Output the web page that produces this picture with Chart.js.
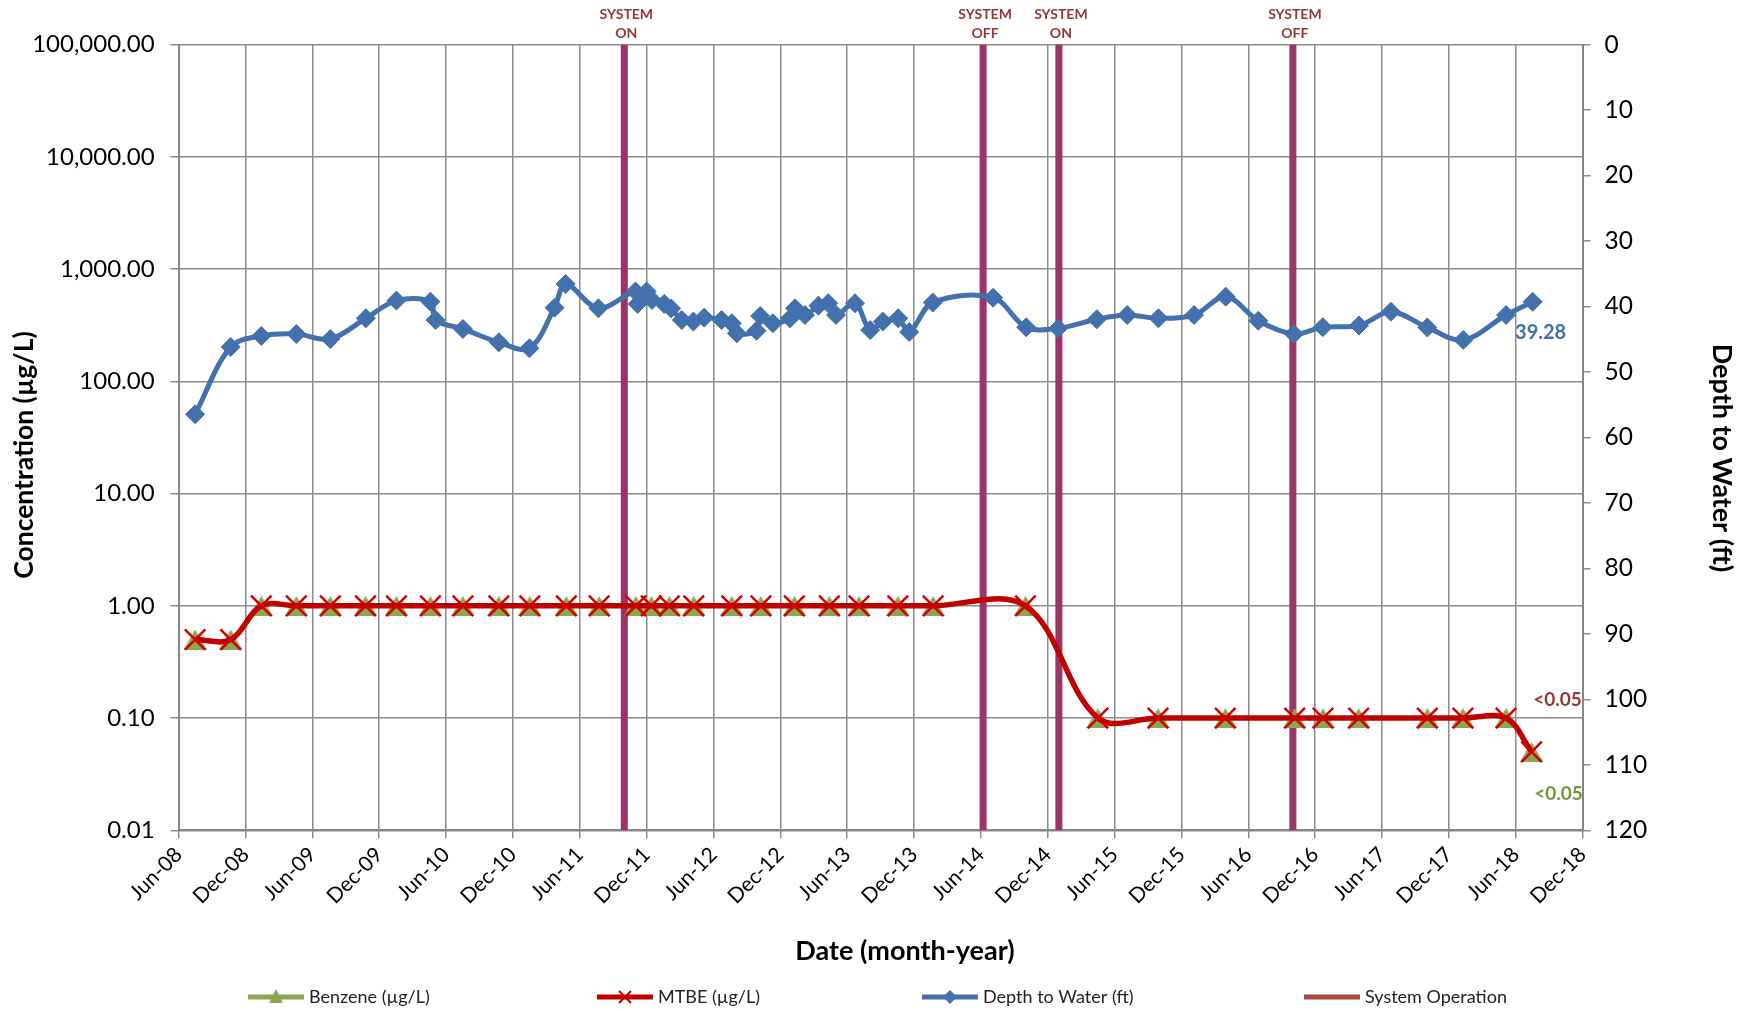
<!DOCTYPE html>
<html>
<head>
<meta charset="utf-8">
<title>Groundwater monitoring – concentrations and depth to water</title>
<script src="https://cdn.jsdelivr.net/npm/chart.js"></script>
<style>
  html, body { margin: 0; padding: 0; background: #ffffff; }
  canvas { display: block; }
</style>
</head>
<body>
<canvas id="chart" width="1750" height="1012"></canvas>
<script>
// ---- Laboratory results (µg/L) by sampling date ----
const sampleDates = [
  '2008-07-16','2008-10-22','2009-01-14','2009-04-18','2009-07-20','2009-10-25',
  '2010-01-18','2010-04-19','2010-07-17','2010-10-24','2011-01-17','2011-04-25',
  '2011-07-24','2011-11-02','2011-12-14','2012-02-02','2012-04-08','2012-07-21',
  '2012-10-09','2013-01-09','2013-04-13','2013-07-03','2013-10-18','2014-01-23',
  '2014-10-01','2015-04-16','2015-09-28','2016-03-30','2016-10-06','2016-12-23',
  '2017-03-29','2017-10-03','2018-01-09','2018-05-05','2018-07-14'
];
const benzene = [
  0.5, 0.5, 1, 1, 1, 1,
  1, 1, 1, 1, 1, 1,
  1, 1, 1, 1, 1, 1,
  1, 1, 1, 1, 1, 1,
  1, 0.1, 0.1, 0.1, 0.1, 0.1,
  0.1, 0.1, 0.1, 0.1, 0.05
];
const mtbe = [
  0.5, 0.5, 1, 1, 1, 1,
  1, 1, 1, 1, 1, 1,
  1, 1, 1, 1, 1, 1,
  1, 1, 1, 1, 1, 1,
  1, 0.1, 0.1, 0.1, 0.1, 0.1,
  0.1, 0.1, 0.1, 0.1, 0.05
];

// ---- Gauging results: depth to water (ft) ----
const gaugeDates = [
  '2008-07-16','2008-10-22','2009-01-14','2009-04-18','2009-07-20','2009-10-26',
  '2010-01-18','2010-04-19','2010-05-03','2010-07-17','2010-10-24','2011-01-16',
  '2011-03-24','2011-04-23','2011-07-22','2011-11-01','2011-11-07','2011-12-01',
  '2011-12-16','2012-01-19','2012-02-07','2012-03-06','2012-04-07','2012-05-06',
  '2012-06-23','2012-07-21','2012-08-04','2012-09-27','2012-10-07','2012-11-11',
  '2012-12-28','2013-01-11','2013-02-07','2013-03-14','2013-04-10','2013-05-01',
  '2013-06-22','2013-08-03','2013-09-07','2013-10-19','2013-11-18','2014-01-22',
  '2014-07-04','2014-10-03','2014-12-30','2015-04-13','2015-07-05','2015-09-29',
  '2016-01-05','2016-03-31','2016-06-28','2016-10-04','2016-12-22','2017-03-30',
  '2017-06-25','2017-10-03','2018-01-10','2018-05-05','2018-07-17'
];
const depthToWater = [
  56.46, 46.18, 44.50, 44.20, 44.96, 41.80,
  39.10, 39.26, 42.06, 43.43, 45.47, 46.38,
  40.18, 36.56, 40.28, 37.70, 39.60, 37.70,
  39.00, 39.60, 40.30, 42.06, 42.30, 41.70,
  42.06, 42.56, 44.10, 43.70, 41.45, 42.56,
  41.80, 40.27, 41.30, 39.87, 39.50, 41.30,
  39.50, 43.60, 42.30, 41.80, 43.90, 39.40,
  38.65, 43.17, 43.33, 41.95, 41.30, 41.80,
  41.30, 38.50, 42.17, 44.20, 43.17, 42.90,
  40.80, 43.20, 45.10, 41.30, 39.28
];

// ---- Remediation system on/off events ----
const systemDates = ['2011-10-01', '2014-06-07', '2015-01-01', '2016-10-01'];
const systemLabels = [['SYSTEM', 'ON'], ['SYSTEM', 'OFF'], ['SYSTEM', 'ON'], ['SYSTEM', 'OFF']];

// ---- Axis tick labels ----
const dateTickLabels = [
  'Jun-08','Dec-08','Jun-09','Dec-09','Jun-10','Dec-10','Jun-11','Dec-11',
  'Jun-12','Dec-12','Jun-13','Dec-13','Jun-14','Dec-14','Jun-15','Dec-15',
  'Jun-16','Dec-16','Jun-17','Dec-17','Jun-18','Dec-18'
];
const concTicks = [0.01, 0.1, 1, 10, 100, 1000, 10000, 100000];
const depthRange = [0, 120];

// Dates are plotted as months elapsed since 1 Jun 2008 (the first axis tick).
function toMonths(s) {
  const [y, m, d] = s.split('-').map(Number);
  const daysInMonth = new Date(y, m, 0).getDate();
  return (y - 2008) * 12 + (m - 6) + (d - 1) / daysInMonth;
}

const COLORS = {
  benzene: '#8CA752',
  mtbe: '#C00000',
  depth: '#4371AD',
  system: '#9B3468',
  systemKey: '#B0443E',
  systemText: '#953735',
  benzeneText: '#77933C',
  grid: '#8C8C8C',
  axis: '#868686'
};

// Upright triangle marker centred on its bounding box
function triangleMarker(w, h, color) {
  const c = document.createElement('canvas');
  c.width = w; c.height = h;
  const g = c.getContext('2d');
  g.fillStyle = color;
  g.beginPath();
  g.moveTo(w / 2, 0);
  g.lineTo(w, h);
  g.lineTo(0, h);
  g.closePath();
  g.fill();
  return c;
}

const benzeneData = sampleDates.map((d, i) => ({ x: toMonths(d), y: benzene[i] }));
const mtbeData = sampleDates.map((d, i) => ({ x: toMonths(d), y: mtbe[i] }));
const depthData = gaugeDates.map((d, i) => ({ x: toMonths(d), y: depthToWater[i] }));
// Each event is a full-height vertical segment; a null point breaks the line between events.
const systemData = [];
systemDates.forEach(d => {
  const x = toMonths(d);
  systemData.push({ x, y: depthRange[1] }, { x, y: depthRange[0] }, { x, y: null });
});

const FONT = "Lato, 'Open Sans', 'DejaVu Sans', sans-serif";
Chart.defaults.font.family = FONT;
Chart.defaults.color = '#000000';

// Titles, point labels, event labels and the key
const annotations = {
  id: 'annotations',
  afterDraw(chart) {
    const ctx = chart.ctx;
    const xs = chart.scales.x;
    ctx.save();

    // event labels above the plot
    ctx.font = 'bold 14px ' + FONT;
    ctx.fillStyle = COLORS.systemText;
    ctx.textAlign = 'center';
    ctx.textBaseline = 'middle';
    systemDates.forEach((d, i) => {
      const px = xs.getPixelForValue(toMonths(d));
      ctx.fillText(systemLabels[i][0], px + 2, 14);
      ctx.fillText(systemLabels[i][1], px + 2, 33);
    });

    // value labels on the last points
    const lastDepth = chart.getDatasetMeta(2).data[depthData.length - 1];
    ctx.font = 'bold 20px ' + FONT;
    ctx.fillStyle = COLORS.depth;
    ctx.fillText(depthToWater[depthToWater.length - 1].toFixed(2), lastDepth.x + 8, lastDepth.y + 31);

    const lastMtbe = chart.getDatasetMeta(1).data[mtbeData.length - 1];
    ctx.font = 'bold 19px ' + FONT;
    ctx.fillStyle = COLORS.systemText;
    ctx.fillText('<' + mtbe[mtbe.length - 1].toFixed(2), lastMtbe.x + 26, lastMtbe.y - 52);

    const lastBenz = chart.getDatasetMeta(0).data[benzeneData.length - 1];
    ctx.fillStyle = COLORS.benzeneText;
    ctx.fillText('<' + benzene[benzene.length - 1].toFixed(2), lastBenz.x + 27, lastBenz.y + 42);

    // axis titles
    ctx.fillStyle = '#000000';
    ctx.font = 'bold 27px ' + FONT;
    ctx.fillText('Date (month-year)', 905, 951);

    ctx.font = 'bold 26.5px ' + FONT;
    ctx.save();
    ctx.translate(24, 455);
    ctx.rotate(-Math.PI / 2);
    ctx.fillText('Concentration (µg/L)', 0, 0);
    ctx.restore();

    ctx.font = 'bold 27px ' + FONT;
    ctx.save();
    ctx.translate(1722, 458);
    ctx.rotate(Math.PI / 2);
    ctx.fillText('Depth to Water (ft)', 0, 0);
    ctx.restore();

    // key
    const keyY = 997;
    const keyX = [248, 597, 922, 1304];
    chart.data.datasets.forEach((ds, i) => {
      const x0 = keyX[i];
      ctx.strokeStyle = ds.keyColor || ds.borderColor;
      ctx.lineWidth = 5;
      ctx.lineCap = 'butt';
      ctx.beginPath();
      ctx.moveTo(x0, keyY);
      ctx.lineTo(x0 + 56, keyY);
      ctx.stroke();
      const cx = x0 + 28;
      if (ds.keyMarker === 'triangle') {
        ctx.fillStyle = ds.borderColor;
        ctx.beginPath();
        ctx.moveTo(cx, keyY - 8);
        ctx.lineTo(cx + 7, keyY + 6);
        ctx.lineTo(cx - 7, keyY + 6);
        ctx.closePath();
        ctx.fill();
      } else if (ds.keyMarker === 'cross') {
        ctx.lineWidth = 2;
        ctx.beginPath();
        ctx.moveTo(cx - 6, keyY - 6); ctx.lineTo(cx + 6, keyY + 6);
        ctx.moveTo(cx + 6, keyY - 6); ctx.lineTo(cx - 6, keyY + 6);
        ctx.stroke();
      } else if (ds.keyMarker === 'diamond') {
        ctx.fillStyle = ds.borderColor;
        ctx.beginPath();
        ctx.moveTo(cx, keyY - 7); ctx.lineTo(cx + 7, keyY);
        ctx.lineTo(cx, keyY + 7); ctx.lineTo(cx - 7, keyY);
        ctx.closePath();
        ctx.fill();
      }
      ctx.fillStyle = '#222222';
      ctx.font = '18px ' + FONT;
      ctx.textAlign = 'left';
      ctx.fillText(ds.label, x0 + 61, keyY);
      ctx.textAlign = 'center';
    });

    ctx.restore();
  }
};

new Chart(document.getElementById('chart'), {
  type: 'line',
  data: {
    datasets: [
      {
        label: 'Benzene (µg/L)',
        data: benzeneData,
        yAxisID: 'y',
        borderColor: COLORS.benzene,
        backgroundColor: COLORS.benzene,
        borderWidth: 4,
        pointStyle: triangleMarker(23, 20, COLORS.benzene),
        keyMarker: 'triangle',
        pointRadius: 11,
        tension: 0.35,
        order: 2
      },
      {
        label: 'MTBE (µg/L)',
        data: mtbeData,
        yAxisID: 'y',
        borderColor: COLORS.mtbe,
        backgroundColor: COLORS.mtbe,
        borderWidth: 5.5,
        pointStyle: 'crossRot',
        keyMarker: 'cross',
        pointRadius: 14.5,
        pointBorderWidth: 2.5,
        pointBorderColor: '#D40000',
        tension: 0.35,
        order: 1
      },
      {
        label: 'Depth to Water (ft)',
        data: depthData,
        yAxisID: 'y2',
        borderColor: COLORS.depth,
        backgroundColor: COLORS.depth,
        borderWidth: 5,
        pointStyle: 'rectRot',
        keyMarker: 'diamond',
        pointRadius: 9.5,
        pointBorderWidth: 1,
        pointBackgroundColor: COLORS.depth,
        pointBorderColor: COLORS.depth,
        tension: 0.35,
        order: 3
      },
      {
        label: 'System Operation',
        data: systemData,
        yAxisID: 'y2',
        borderColor: COLORS.system,
        keyColor: COLORS.systemKey,
        borderWidth: 7,
        borderCapStyle: 'butt',
        pointRadius: 0,
        pointHoverRadius: 0,
        tension: 0,
        spanGaps: false,
        order: 10
      }
    ]
  },
  options: {
    responsive: false,
    animation: false,
    devicePixelRatio: 1,
    layout: { padding: { top: 44.6, left: 0, right: 0, bottom: 0 } },
    plugins: {
      legend: { display: false },
      tooltip: { enabled: false },
      title: { display: false }
    },
    scales: {
      x: {
        type: 'linear',
        min: 0,
        max: (dateTickLabels.length - 1) * 6,
        afterBuildTicks: s => { s.ticks = dateTickLabels.map((_, i) => ({ value: i * 6 })); },
        afterFit: s => { s.height = 181.7; },
        ticks: {
          autoSkip: false,
          minRotation: 45,
          maxRotation: 45,
          padding: 4,
          color: '#000000',
          font: { size: 21 },
          callback: v => dateTickLabels[Math.round(v / 6)]
        },
        grid: { color: COLORS.grid, lineWidth: 1.5, tickLength: 8, tickColor: COLORS.grid },
        border: { color: COLORS.axis, width: 2 }
      },
      y: {
        type: 'logarithmic',
        position: 'left',
        min: concTicks[0],
        max: concTicks[concTicks.length - 1],
        afterBuildTicks: s => { s.ticks = concTicks.map(v => ({ value: v })); },
        afterFit: s => { s.width = 178.6; },
        ticks: {
          autoSkip: false,
          padding: 16,
          color: '#000000',
          font: { size: 24 },
          callback: v => Number(v).toLocaleString('en-US', { minimumFractionDigits: 2, maximumFractionDigits: 2 })
        },
        grid: { color: COLORS.grid, lineWidth: 1.5, tickLength: 8, tickColor: COLORS.grid },
        border: { color: COLORS.axis, width: 2 }
      },
      y2: {
        type: 'linear',
        position: 'right',
        min: depthRange[0],
        max: depthRange[1],
        reverse: true,
        afterFit: s => { s.width = 167.4; },
        ticks: { stepSize: 10, padding: 14, color: '#000000', font: { size: 24.5 } },
        grid: { drawOnChartArea: false, lineWidth: 1.5, tickLength: 8, tickColor: COLORS.grid },
        border: { color: COLORS.axis, width: 2 }
      }
    }
  },
  plugins: [annotations]
});
</script>
</body>
</html>
